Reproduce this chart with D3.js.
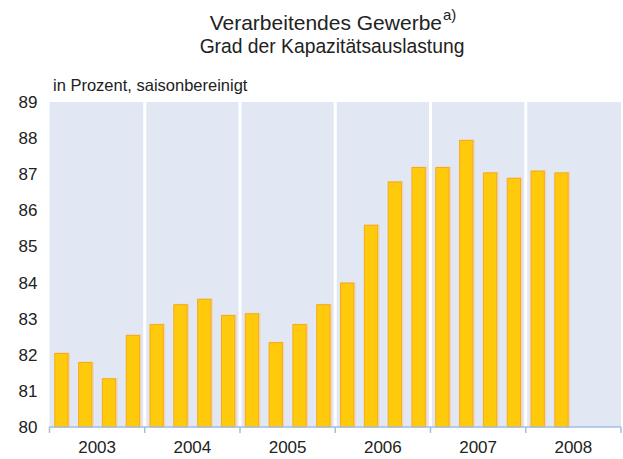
<!DOCTYPE html>
<html>
<head>
<meta charset="utf-8">
<script src="https://cdn.jsdelivr.net/npm/d3@7"></script>
<style>
  body { margin: 0; background: #fff; }
  svg { font-family: "Liberation Sans", Arial, sans-serif; }
</style>
</head>
<body>
<svg width="623" height="459"></svg>
<script>
const years = ["2003", "2004", "2005", "2006", "2007", "2008"];
const quarters = ["Q1", "Q2", "Q3", "Q4"];
// Kapazitätsauslastung je Quartal, 2003 Q1 bis 2008 Q2
const values = [
    82.05, 81.8, 81.35, 82.55,
    82.85, 83.4, 83.55, 83.1,
    83.15, 82.35, 82.85, 83.4,
    84.0, 85.6, 86.8, 87.2,
    87.2, 87.95, 87.05, 86.9,
    87.1, 87.05
];
const yTicks = [80, 81, 82, 83, 84, 85, 86, 87, 88, 89];

const svg = d3.select("svg");
const margin = { top: 102, right: 2, bottom: 32, left: 49.5 },
      width = 623 - margin.left - margin.right,
      height = 459 - margin.top - margin.bottom;

const periods = [];
years.forEach(y => quarters.forEach(q => periods.push(y + q)));
const data = values.map((v, i) => ({ period: periods[i], value: v }));

const xYear = d3.scaleBand().domain(years).range([0, width]);
const x = d3.scaleBand().domain(periods).range([0, width]).paddingInner(0.4).paddingOuter(0.2);
const y = d3.scaleLinear().domain([80, 89]).range([height, 0]);

const g = svg.append("g").attr("transform", `translate(${margin.left},${margin.top})`);

// Hintergrund
g.append("rect")
    .attr("x", 0).attr("y", 0)
    .attr("width", width).attr("height", height)
    .attr("fill", "#e1e8f4");

// weiße Trennlinien zwischen den Jahren
g.selectAll(".sep")
    .data(years.slice(1))
    .enter().append("line")
    .attr("x1", d => xYear(d)).attr("x2", d => xYear(d))
    .attr("y1", 0).attr("y2", height)
    .attr("stroke", "#fff")
    .attr("stroke-width", 3);

// Schatten
g.selectAll(".shadow")
    .data(data)
    .enter().append("rect")
    .attr("x", d => x(d.period) + 1.5)
    .attr("y", d => y(d.value) - 0.5)
    .attr("width", x.bandwidth())
    .attr("height", d => height - y(d.value) + 0.5)
    .attr("fill", "#f2cfa0")
    .attr("opacity", 0.7);

// Balken
g.selectAll(".bar")
    .data(data)
    .enter().append("rect")
    .attr("x", d => x(d.period) + 0.5)
    .attr("y", d => y(d.value) + 0.5)
    .attr("width", x.bandwidth() - 1)
    .attr("height", d => height - y(d.value) - 0.5)
    .attr("fill", "#ffc90c")
    .attr("stroke", "#f7aa1c")
    .attr("stroke-width", 1);

// x-Achse
g.append("line")
    .attr("x1", 0).attr("x2", width)
    .attr("y1", height).attr("y2", height)
    .attr("stroke", "#a3bedf")
    .attr("stroke-width", 1.5);

const bounds = years.map(d => xYear(d)).concat([width]);
g.selectAll(".tick")
    .data(bounds)
    .enter().append("line")
    .attr("x1", d => d).attr("x2", d => d)
    .attr("y1", height).attr("y2", height + 6)
    .attr("stroke", "#a3bedf")
    .attr("stroke-width", 1.5);

g.selectAll(".year")
    .data(years)
    .enter().append("text")
    .attr("x", d => xYear(d) + xYear.bandwidth() / 2)
    .attr("y", height + 26)
    .attr("text-anchor", "middle")
    .attr("font-size", 17)
    .attr("fill", "#222")
    .text(d => d);

// y-Achse
const yAxis = g.append("g")
    .call(d3.axisLeft(y).tickValues(yTicks).tickSize(0).tickPadding(12));
yAxis.select(".domain").remove();
yAxis.selectAll("text")
    .attr("font-size", 17)
    .attr("font-family", "Liberation Sans, Arial, sans-serif")
    .attr("fill", "#222");

// Titel
const title = svg.append("text")
    .attr("x", 333).attr("y", 30)
    .attr("text-anchor", "middle")
    .attr("font-size", 21)
    .attr("fill", "#222");
title.append("tspan").text("Verarbeitendes Gewerbe");
title.append("tspan").attr("dy", -10).attr("dx", 1).attr("font-size", 15).text("a)");

svg.append("text")
    .attr("x", 332).attr("y", 53)
    .attr("text-anchor", "middle")
    .attr("font-size", 19.3)
    .attr("fill", "#222")
    .text("Grad der Kapazitätsauslastung");

svg.append("text")
    .attr("x", 53).attr("y", 91)
    .attr("font-size", 16.5)
    .attr("fill", "#222")
    .text("in Prozent, saisonbereinigt");
</script>
</body>
</html>
